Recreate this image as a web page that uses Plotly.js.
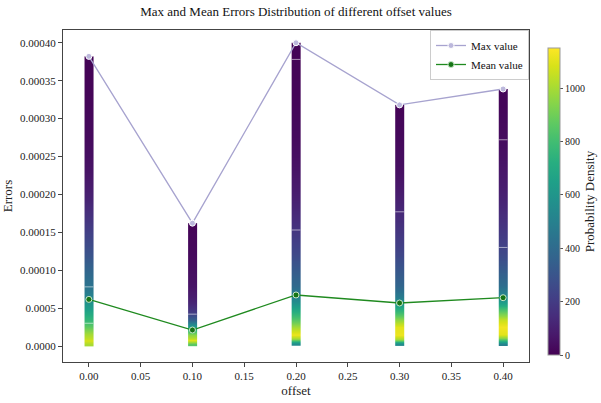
<!DOCTYPE html>
<html>
<head>
<meta charset="utf-8">
<script src="https://cdn.plot.ly/plotly-3.0.1.min.js"></script>
<style>html,body{margin:0;padding:0;background:#fff;}#chart{width:601px;height:403px;}</style>
</head>
<body>
<div id="chart"></div>
<script>
// ---- data ----
const offsets = [0.00, 0.10, 0.20, 0.30, 0.40];
const maxValues = [0.000382, 0.000162, 0.000400, 0.000318, 0.000339];
const meanValues = [0.0000615, 0.0000211, 0.0000673, 0.0000567, 0.0000637];

// density bin boundaries (errors) used for the distribution strips
const yLevels = [0, 0.000005, 0.00001, 0.00002, 0.00003, 0.00004, 0.00005, 0.00006, 0.00007, 0.00008,
                 0.0001, 0.00012, 0.00015, 0.00018, 0.00021, 0.00025, 0.0003, 0.00035, 0.0004];

const density000 = [1000, 1080, 1000, 870, 760, 680, 600, 520, 460, 410, 340, 260, 180, 110, 60, 30, 15, 8];
const density010 = [850, 1100, 950, 650, 350, 200, 130, 90, 70, 50, 35, 20, 10];
const density020 = [550, 850, 1120, 1000, 850, 720, 600, 500, 430, 360, 290, 220, 150, 100, 60, 30, 15, 8];
const density030 = [550, 900, 1120, 1100, 950, 780, 620, 480, 400, 340, 280, 210, 150, 100, 50, 25, 10];
const density040 = [500, 800, 1100, 1130, 1050, 880, 680, 540, 450, 370, 290, 220, 160, 110, 70, 35, 15];
const densities = [density000, density010, density020, density030, density040];

// faint separator lines seen inside the strips
const sepLines = [[0.000078, 0.000030], [0.000042], [0.000378, 0.000153], [0.000177], [0.000272, 0.000130]];

const yTickVals = [0, 0.00005, 0.0001, 0.00015, 0.0002, 0.00025, 0.0003, 0.00035, 0.0004];
const yTickText = ['0.0000', '0.0005', '0.00010', '0.00015', '0.00020', '0.00025', '0.00030', '0.00035', '0.00040'];
const cbTickVals = [0, 200, 400, 600, 800, 1000];

// ---- build ----
const halfW = 0.0042;
const FONT = "'Liberation Serif', 'Times New Roman', serif";
const traces = [];

offsets.forEach((o, i) => {
  const mx = maxValues[i];
  const edges = yLevels.filter(v => v < mx).concat([mx]);
  const z = densities[i].map(d => [d, d]);
  traces.push({
    type: 'heatmap',
    x: [o - halfW, o, o + halfW],
    y: edges,
    z: z,
    coloraxis: 'coloraxis',
    zsmooth: 'best',
    hoverinfo: 'skip',
    showlegend: false
  });
});

const sx = [], sy = [];
offsets.forEach((o, i) => {
  sepLines[i].forEach(v => {
    sx.push(o - halfW, o + halfW, null);
    sy.push(v, v, null);
  });
});
traces.push({
  type: 'scatter', mode: 'lines', x: sx, y: sy,
  line: {color: 'rgba(255,255,255,0.55)', width: 1},
  hoverinfo: 'skip', showlegend: false
});

traces.push({
  type: 'scatter', mode: 'lines+markers', name: 'Max value',
  x: offsets, y: maxValues,
  line: {color: '#a7a3cf', width: 1.3},
  marker: {color: '#bcb8dc', size: 6, line: {color: '#ffffff', width: 1}}
});
traces.push({
  type: 'scatter', mode: 'lines+markers', name: 'Mean value',
  x: offsets, y: meanValues,
  line: {color: '#1f8a1f', width: 1.3},
  marker: {color: '#167516', size: 6, line: {color: '#c8e6c8', width: 1}}
});

const layout = {
  width: 601, height: 403,
  margin: {l: 63, r: 72, t: 30, b: 41, autoexpand: false},
  paper_bgcolor: '#ffffff', plot_bgcolor: '#ffffff',
  font: {family: FONT, color: '#222', size: 11},
  title: {text: 'Max and Mean Errors Distribution of different offset values',
          x: 0.5, xref: 'paper', y: 0.972, yanchor: 'middle', font: {family: FONT, size: 13, color: '#111'}},
  xaxis: {
    range: [-0.025, 0.425], dtick: 0.05, tick0: 0, tickformat: '.2f',
    showgrid: false, zeroline: false, showline: true, linecolor: '#444', linewidth: 1, mirror: true,
    ticks: 'outside', ticklen: 4, tickcolor: '#444', tickfont: {size: 11, family: FONT},
    title: {text: 'offset', font: {size: 13, family: FONT}, standoff: 4}
  },
  yaxis: {
    range: [-0.0000211, 0.0004168], tickmode: 'array', tickvals: yTickVals, ticktext: yTickText,
    showgrid: false, zeroline: false, showline: true, linecolor: '#444', linewidth: 1, mirror: true,
    ticks: 'outside', ticklen: 4, tickcolor: '#444', tickfont: {size: 11, family: FONT},
    title: {text: 'Errors', font: {size: 13, family: FONT}, standoff: 10}
  },
  coloraxis: {
    cmin: 0, cmax: 1150, colorscale: 'Viridis',
    colorbar: {
      thickness: 12, len: 307, lenmode: 'pixels', y: 0.021, yanchor: 'bottom',
      x: 1.04, xanchor: 'left', xpad: 0, ypad: 0,
      outlinewidth: 1, outlinecolor: '#999',
      tickmode: 'array', tickvals: cbTickVals, ticks: 'outside', ticklen: 3, tickcolor: '#555',
      tickfont: {size: 10, family: FONT}, ticksuffix: '\u00a0\u00a0\u00a0\u00a0',
      title: {text: 'Probability Density', side: 'right', font: {size: 13, family: FONT}}
    }
  },
  legend: {
    x: 1, xanchor: 'right', y: 1, yanchor: 'top',
    bgcolor: 'rgba(255,255,255,0.9)', bordercolor: '#cccccc', borderwidth: 1,
    font: {size: 11, family: FONT, color: '#111'}, tracegroupgap: 0, itemwidth: 30
  },
  showlegend: true
};

Plotly.newPlot('chart', traces, layout, {staticPlot: true, displayModeBar: false});
</script>
</body>
</html>
